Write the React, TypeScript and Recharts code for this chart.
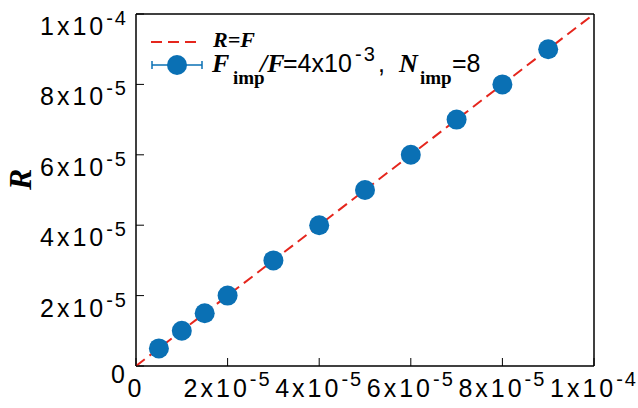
import React from "react";
import { ScatterChart, Scatter, XAxis, YAxis } from "recharts";

// F (flux) and R (rate) readings, one per marker
const fluxValues = [5e-6, 1e-5, 1.5e-5, 2e-5, 3e-5, 4e-5, 5e-5, 6e-5, 7e-5, 8e-5, 9e-5];
const rateValues = [5e-6, 1e-5, 1.5e-5, 2e-5, 3e-5, 4e-5, 5e-5, 6e-5, 7e-5, 8e-5, 9e-5];

// R = F reference line end points
const diagX = [0, 1e-4];
const diagY = [0, 1e-4];

const axisTicks = [0, 2e-5, 4e-5, 6e-5, 8e-5, 1e-4];

const BLUE = "#0a70b4";
const RED = "#e5261d";
const SANS = "'Liberation Sans', Arial, sans-serif";
const SERIF = "'Liberation Serif', 'Times New Roman', serif";

const points = fluxValues.map((f, i) => ({ f, r: rateValues[i] }));
const diag = diagX.map((f, i) => ({ f, r: diagY[i] }));

function splitSci(v: number) {
    if (v === 0) return { mant: "0", exp: "" };
    const exp = Math.floor(Math.log10(v) + 1e-9);
    const mant = Math.round(v / Math.pow(10, exp));
    return { mant: `${mant}x10`, exp: `${exp}` };
}

const BottomTick = (props: any) => {
    const { x, y, payload } = props;
    const { mant, exp } = splitSci(payload.value);
    return (
        <g>
            <line x1={x} x2={x} y1={y} y2={y - 8} stroke="#000" strokeWidth={1} />
            <text x={x} y={y + 31} textAnchor="middle" fontFamily={SANS} fontSize={25} letterSpacing={3} fill="#000">
                {mant}
                {exp && (
                    <tspan dy={-11} fontSize={20} letterSpacing={2}>
                        {exp}
                    </tspan>
                )}
            </text>
        </g>
    );
};

const LeftTick = (props: any) => {
    const { x, y, payload } = props;
    const { mant, exp } = splitSci(payload.value);
    return (
        <g>
            <line x1={x} x2={x + 8} y1={y} y2={y} stroke="#000" strokeWidth={1} />
            <text x={x - 8} y={exp ? y + 21 : y + 17} textAnchor="end" fontFamily={SANS} fontSize={25} letterSpacing={3} fill="#000">
                {mant}
                {exp && (
                    <tspan dy={-10} fontSize={20} letterSpacing={2}>
                        {exp}
                    </tspan>
                )}
            </text>
        </g>
    );
};

const TopTick = (props: any) => {
    const { x } = props;
    return <line x1={x} x2={x} y1={14} y2={22} stroke="#000" strokeWidth={1} />;
};

const RightTick = (props: any) => {
    const { y } = props;
    return <line x1={594} x2={586} y1={y} y2={y} stroke="#000" strokeWidth={1} />;
};

const Dot = (props: any) => {
    const { cx, cy } = props;
    return <circle cx={cx} cy={cy} r={10} fill={BLUE} />;
};

const NoDot = () => <g />;

function LegendBox() {
    const bi = { fontFamily: SERIF, fontWeight: 700, fontStyle: "italic" as const };
    return (
        <svg width={638} height={408} style={{ position: "absolute", left: 0, top: 0, pointerEvents: "none" }}>
            <line x1={151} x2={197} y1={42} y2={42} stroke={RED} strokeWidth={2} strokeDasharray="11 6" />
            <text x={213} y={47} fontSize={22} fill="#000" {...bi}>
                R=F
            </text>
            <line x1={152} x2={202} y1={65} y2={65} stroke={BLUE} strokeWidth={1.5} />
            <line x1={152} x2={152} y1={61} y2={69} stroke={BLUE} strokeWidth={1.5} />
            <line x1={202} x2={202} y1={61} y2={69} stroke={BLUE} strokeWidth={1.5} />
            <circle cx={177} cy={65} r={10} fill={BLUE} />
            <text y={72} fontSize={26} fill="#000">
                <tspan x={212} {...bi}>F</tspan>
                <tspan x={233} dy={12} fontFamily={SERIF} fontWeight={700} fontSize={19}>imp</tspan>
                <tspan x={260} dy={-12} {...bi}>/F</tspan>
                <tspan x={283} fontFamily={SANS} fontSize={25}>=4x10</tspan>
                <tspan x={355} dy={-11} fontFamily={SANS} fontSize={20} letterSpacing={2}>-3</tspan>
                <tspan x={378} dy={11} fontFamily={SANS} fontSize={25}>,</tspan>
                <tspan x={399} {...bi}>N</tspan>
                <tspan x={420} dy={12} fontFamily={SERIF} fontWeight={700} fontSize={19}>imp</tspan>
                <tspan x={452} dy={-12} fontFamily={SANS} fontSize={25}>=8</tspan>
            </text>
        </svg>
    );
}

export default function App() {
    return (
        <div style={{ position: "fixed", left: 0, top: 0, width: 638, height: 408, background: "#fff" }}>
            <ScatterChart width={638} height={398} margin={{ top: 13, right: 43, bottom: 0, left: 0 }}>
                <XAxis
                    xAxisId="b"
                    dataKey="f"
                    type="number"
                    domain={[0, 1e-4]}
                    ticks={axisTicks}
                    height={32}
                    tickSize={0}
                    tickMargin={0}
                    tickLine={false}
                    tick={<BottomTick />}
                    axisLine={{ stroke: "#000", strokeWidth: 1.5 }}
                    interval={0}
                    allowDataOverflow
                />
                <XAxis
                    xAxisId="t"
                    orientation="top"
                    type="number"
                    domain={[0, 1e-4]}
                    ticks={axisTicks}
                    height={1}
                    tickSize={0}
                    tickMargin={0}
                    tickLine={false}
                    tick={<TopTick />}
                    axisLine={{ stroke: "#000", strokeWidth: 1.5 }}
                    interval={0}
                />
                <YAxis
                    yAxisId="l"
                    dataKey="r"
                    type="number"
                    domain={[0, 1e-4]}
                    ticks={axisTicks}
                    width={136}
                    tickSize={0}
                    tickMargin={0}
                    tickLine={false}
                    tick={<LeftTick />}
                    axisLine={{ stroke: "#000", strokeWidth: 1.5 }}
                    interval={0}
                    allowDataOverflow
                    label={{
                        value: "R",
                        angle: -90,
                        position: "insideLeft",
                        offset: 0,
                        style: { fontFamily: SERIF, fontWeight: 700, fontStyle: "italic", fontSize: 32, fill: "#000" },
                        dx: 20,
                    }}
                />
                <YAxis
                    yAxisId="r"
                    orientation="right"
                    type="number"
                    domain={[0, 1e-4]}
                    ticks={axisTicks}
                    width={1}
                    tickSize={0}
                    tickMargin={0}
                    tickLine={false}
                    tick={<RightTick />}
                    axisLine={{ stroke: "#000", strokeWidth: 1.5 }}
                    interval={0}
                />
                <Scatter
                    xAxisId="b"
                    yAxisId="l"
                    data={diag}
                    line={{ stroke: RED, strokeWidth: 2, strokeDasharray: "11 6" }}
                    shape={<NoDot />}
                    isAnimationActive={false}
                />
                <Scatter xAxisId="b" yAxisId="l" data={points} shape={<Dot />} isAnimationActive={false} />
            </ScatterChart>
            <LegendBox />
        </div>
    );
}
